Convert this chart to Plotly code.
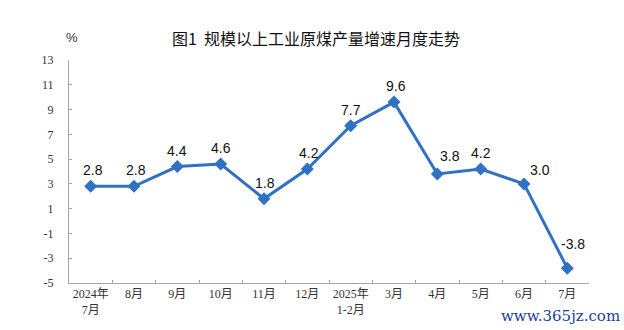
import plotly.graph_objects as go

# Monthly growth of raw coal output (industrial enterprises above designated size), %
months = ["2024年<br>7月", "8月", "9月", "10月", "11月", "12月", "2025年<br>1-2月",
          "3月", "4月", "5月", "6月", "7月"]
growth = [2.8, 2.8, 4.4, 4.6, 1.8, 4.2, 7.7, 9.6, 3.8, 4.2, 3.0, -3.8]

# pixel offsets of each value label from its point
label_dx = [2, 2, 0, 0, 1, 2, 0, 2, 13, 0, 16, 6]
label_dy = [16, 16, 16, 16, 16, 16, 16, 16, 18, 16, 14, 24]

y_ticks = list(range(-5, 14, 2))
LINE = "#2f72c4"

fig = go.Figure(
    go.Scatter(
        x=months,
        y=growth,
        mode="lines+markers",
        line=dict(color=LINE, width=3),
        marker=dict(symbol="diamond", size=10, color=LINE),
        cliponaxis=False,
        hoverinfo="skip",
    )
)

for m, v, dx, dy in zip(months, growth, label_dx, label_dy):
    fig.add_annotation(
        x=m, y=v, xref="x", yref="y",
        text=f"{v:.1f}", showarrow=False,
        xshift=dx, yshift=dy,
        xanchor="center", yanchor="middle",
        font=dict(family="Liberation Sans, Arial", size=14, color="#111"),
    )

W, H = 624, 330
ML, MR, MT, MB = 69, 35, 60, 47


def px(x, y):
    return (x - ML) / (W - ML - MR), 1 - (y - MT) / (H - MT - MB)


for text, (x, y), font in [
    ("图1  规模以上工业原煤产量增速月度走势", (316, 38),
     dict(family="Noto Sans CJK SC", size=16, color="#111")),
    ("%", (72, 38), dict(family="Liberation Sans", size=13, color="#333")),
    ("www.365jz.com", (560, 316), dict(family="DejaVu Serif", size=15, color="#1c3f8f")),
]:
    ax, ay = px(x, y)
    fig.add_annotation(
        x=ax, y=ay, xref="paper", yref="paper", text=text, showarrow=False,
        xanchor="center", yanchor="middle", font=font,
    )

fig.update_layout(
    width=W,
    height=H,
    margin=dict(l=ML, r=MR, t=MT, b=MB, autoexpand=False),
    paper_bgcolor="white",
    plot_bgcolor="white",
    showlegend=False,
    xaxis=dict(
        type="category",
        tickson="boundaries",
        ticks="inside",
        ticklen=3,
        tickcolor="#a6a6a6",
        tickangle=0,
        automargin=False,
        showline=True,
        linecolor="#a6a6a6",
        linewidth=1,
        showgrid=False,
        tickfont=dict(family="Liberation Serif, Noto Sans CJK SC", size=12, color="#333"),
        range=[-0.5, len(months) - 0.5],
    ),
    yaxis=dict(
        range=[-5, 13],
        tickvals=y_ticks,
        ticktext=[str(v) for v in y_ticks],
        ticks="inside",
        ticklen=3,
        tickcolor="#a6a6a6",
        automargin=False,
        showline=True,
        linecolor="#a6a6a6",
        linewidth=1,
        showgrid=False,
        zeroline=False,
        tickfont=dict(family="Liberation Serif, Times New Roman", size=12, color="#333"),
        ticklabelstandoff=12,
    ),
)

fig.write_html("out.html")
